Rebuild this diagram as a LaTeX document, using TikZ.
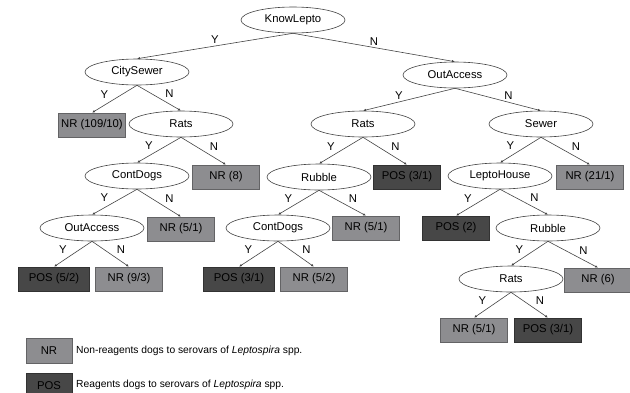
\documentclass[tikz,border=0pt]{standalone}
\usepackage{fontspec}
\setmainfont{Liberation Sans}
\usetikzlibrary{shapes.geometric,arrows.meta}
\definecolor{nrfill}{HTML}{8D8D90}
\definecolor{posfill}{HTML}{474747}
\definecolor{lnc}{HTML}{444444}
\tikzset{
  ell/.style={ellipse, draw=lnc, line width=0.6pt, fill=white, minimum width=104pt, minimum height=26pt, inner sep=0pt, font=\fontsize{11.3}{13}\selectfont},
  nrbox/.style={rectangle, draw=nrfill!70!black, line width=0.6pt, fill=nrfill, minimum width=67pt, minimum height=24pt, inner sep=0pt, font=\fontsize{11.3}{13}\selectfont},
  posbox/.style={nrbox, draw=posfill!70!black, fill=posfill},
  edge/.style={draw=lnc, line width=0.6pt, -{Latex[length=3pt,width=2.5pt]}},
  lab/.style={inner sep=1pt, font=\fontsize{11.3}{13}\selectfont},
  ylab/.style={lab, midway, anchor=south east, xshift=-5pt, yshift=-1pt},
  nlab/.style={lab, midway, anchor=south west, xshift=5pt, yshift=-1pt},
  leg/.style={anchor=west, inner sep=0pt, font=\fontsize{10.3}{12}\selectfont}
}
\begin{document}
\begin{tikzpicture}[x=1pt,y=-1pt]
\useasboundingbox (0,0) rectangle (630,392);
% level 0
\node[ell] (kl) at (293,20) {KnowLepto};
% level 1
\node[ell] (cs) at (137,72) {CitySewer};
\node[ell] (oa) at (455,75) {OutAccess};
% level 2
\node[nrbox] (nr109) at (92,125) {NR (109/10)};
\node[ell] (rats1) at (181,124) {Rats};
\node[ell] (rats2) at (363,124) {Rats};
\node[ell] (sew) at (541,124) {Sewer};
% level 3
\node[ell] (cd1) at (137,176) {ContDogs};
\node[nrbox] (nr8) at (226,177) {NR (8)};
\node[ell] (rub1) at (319,177) {Rubble};
\node[posbox] (pos31a) at (407,177) {POS (3/1)};
\node[ell] (lh) at (500,176) {LeptoHouse};
\node[nrbox] (nr211) at (590,177) {NR (21/1)};
% level 4
\node[ell] (oa2) at (92,228) {OutAccess};
\node[nrbox] (nr51a) at (181,229) {NR (5/1)};
\node[ell] (cd2) at (278,228) {ContDogs};
\node[nrbox] (nr51b) at (366,228) {NR (5/1)};
\node[posbox] (pos2) at (456,228) {POS (2)};
\node[ell] (rub2) at (548,228) {Rubble};
% level 5
\node[posbox, minimum width=71pt] (pos52) at (54,279) {POS (5/2)};
\node[nrbox] (nr93) at (129,279) {NR (9/3)};
\node[posbox, minimum width=71pt] (pos31b) at (239,279) {POS (3/1)};
\node[nrbox] (nr52) at (314,279) {NR (5/2)};
\node[ell] (rats3) at (511,279) {Rats};
\node[nrbox] (nr6) at (598,280) {NR (6)};
% level 6
\node[nrbox] (nr51c) at (474,330) {NR (5/1)};
\node[posbox] (pos31c) at (548,330) {POS (3/1)};
% edges
\draw[edge] (kl.south) -- node[lab, midway, anchor=south, yshift=1pt] {Y} (cs.north);
\draw[edge] (kl.south) -- node[lab, midway, anchor=south, yshift=1pt] {N} (oa.north);
\draw[edge] (cs.south) -- node[ylab] {Y} (nr109.north);
\draw[edge] (cs.south) -- node[nlab] {N} (rats1.north);
\draw[edge] (rats1.south) -- node[ylab] {Y} (cd1.north);
\draw[edge] (rats1.south) -- node[nlab] {N} (nr8.north);
\draw[edge] (cd1.south) -- node[ylab] {Y} (oa2.north);
\draw[edge] (cd1.south) -- node[nlab] {N} (nr51a.north);
\draw[edge] (oa2.south) -- node[ylab] {Y} (pos52.north);
\draw[edge] (oa2.south) -- node[nlab] {N} (nr93.north);
\draw[edge] (oa.south) -- node[ylab] {Y} (rats2.north);
\draw[edge] (oa.south) -- node[nlab] {N} (sew.north);
\draw[edge] (rats2.south) -- node[ylab] {Y} (rub1.north);
\draw[edge] (rats2.south) -- node[nlab] {N} (pos31a.north);
\draw[edge] (rub1.south) -- node[ylab] {Y} (cd2.north);
\draw[edge] (rub1.south) -- node[nlab] {N} (nr51b.north);
\draw[edge] (cd2.south) -- node[ylab] {Y} (pos31b.north);
\draw[edge] (cd2.south) -- node[nlab] {N} (nr52.north);
\draw[edge] (sew.south) -- node[ylab] {Y} (lh.north);
\draw[edge] (sew.south) -- node[nlab] {N} (nr211.north);
\draw[edge] (lh.south) -- node[ylab] {Y} (pos2.north);
\draw[edge] (lh.south) -- node[nlab] {N} (rub2.north);
\draw[edge] (rub2.south) -- node[ylab] {Y} (rats3.north);
\draw[edge] (rub2.south) -- node[nlab] {N} (nr6.north);
\draw[edge] (rats3.south) -- node[ylab] {Y} (nr51c.north);
\draw[edge] (rats3.south) -- node[nlab] {N} (pos31c.north);
% legend
\node[nrbox, minimum width=46pt, minimum height=25pt] (lnr) at (49,350.5) {NR};
\node[posbox, minimum width=46pt, minimum height=25pt] (lpos) at (49,386) {POS};
\node[leg] (lnrt) at (76,350.5) {Non-reagents dogs to serovars of \textit{Leptospira} spp.};
\node[leg] (lpost) at (76,385) {Reagents dogs to serovars of \textit{Leptospira} spp.};
\end{tikzpicture}
\end{document}
